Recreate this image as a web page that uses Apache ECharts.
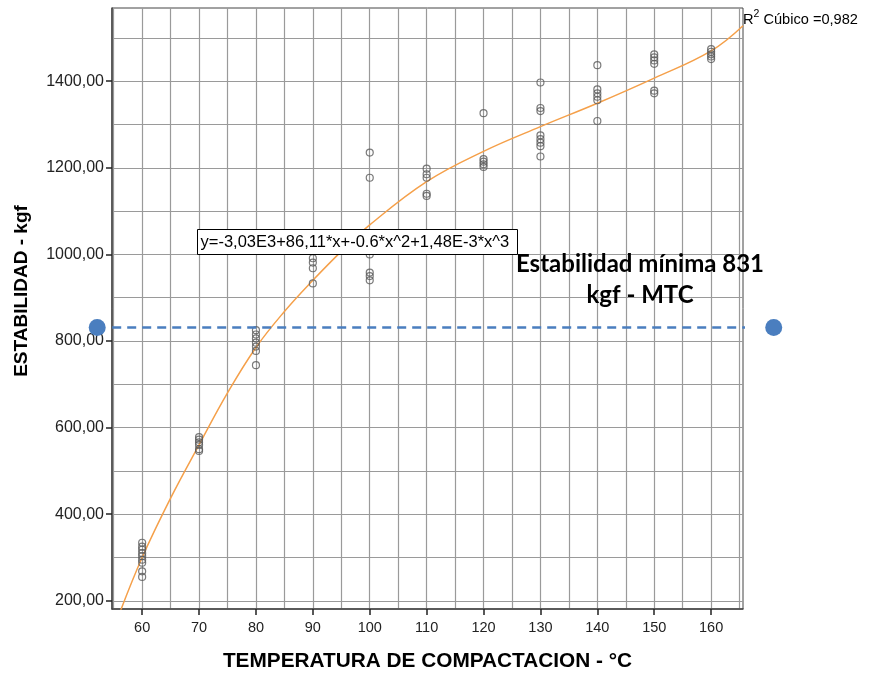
<!DOCTYPE html>
<html>
<head>
<meta charset="utf-8">
<script src="https://cdn.jsdelivr.net/npm/echarts@6/dist/echarts.min.js"></script>
<style>
  html, body { margin: 0; padding: 0; background: #fff; }
  #chart { width: 870px; height: 673px; }
</style>
</head>
<body>
<div id="chart"></div>
<script>
// temperaturas de compactacion (°C)
const temps = [60, 70, 80, 90, 100, 110, 120, 130, 140, 150, 160];
// estabilidad medida en cada temperatura (kgf)
const stability = [
  [334, 325, 318, 310, 303, 295, 288, 268, 255],
  [578, 572, 566, 560, 550, 546],
  [825, 815, 806, 796, 787, 777, 744],
  [991, 981, 968, 933],
  [1235, 1177, 1000, 958, 950, 940],
  [1198, 1185, 1177, 1140, 1135],
  [1326, 1220, 1214, 1208, 1202],
  [1397, 1338, 1331, 1275, 1266, 1258, 1250, 1226],
  [1437, 1381, 1372, 1364, 1356, 1308],
  [1462, 1455, 1448, 1440, 1378, 1372],
  [1474, 1468, 1462, 1457, 1451]
];
// curva cubica
const curveTemp = [56.2, 60, 65, 70, 75, 80, 85, 90, 95, 100, 110, 120, 130, 140, 150, 160, 165.6];
const curveStab = [177, 300, 437, 560, 680, 785, 868, 940, 1007, 1068, 1168, 1238, 1295, 1349, 1407, 1470, 1528];
// estabilidad minima
const minStab = 831;
const limitTemp = [52.1, 171.0];
// etiquetas de ejes
const xTicks = [60, 70, 80, 90, 100, 110, 120, 130, 140, 150, 160];
const yTicks = [200, 400, 600, 800, 1000, 1200, 1400];

const FONT = '"Liberation Sans", Arial, sans-serif';
const W = 870, H = 673;

// area del grafico
const G = { left: 112, right: 127, top: 8, bottom: 64 };
const X_MIN = 54.7, X_MAX = 165.6, Y_MIN = 181, Y_MAX = 1569;
// rejilla fina (cada 5 °C y cada 100 kgf), alineada con la principal
const GX_MIN = 55, GX_MAX = 165, GY_MIN = 200, GY_MAX = 1500;

const pxPerX = (W - G.left - G.right) / (X_MAX - X_MIN);
const pxPerY = (H - G.top - G.bottom) / (Y_MAX - Y_MIN);
const gLeft = G.left + (GX_MIN - X_MIN) * pxPerX;
const gRight = G.right + (X_MAX - GX_MAX) * pxPerX;
const gTop = G.top + (Y_MAX - GY_MAX) * pxPerY;
const gBottom = G.bottom + (GY_MIN - Y_MIN) * pxPerY;

const points = [];
temps.forEach((t, i) => {
  stability[i].forEach(v => points.push([t, v]));
});

const gridLine = { show: true, lineStyle: { color: '#9a9a9a', width: 1.2 } };
const hidden = {
  axisLine: { show: false }, axisTick: { show: false },
  axisLabel: { show: false }, splitLine: { show: false }
};

const chart = echarts.init(document.getElementById('chart'));

chart.setOption({
  backgroundColor: '#fff',
  animation: false,
  grid: [
    {
      left: G.left, right: G.right, top: G.top, bottom: G.bottom,
      containLabel: false, outerBoundsMode: 'none',
      show: true, borderColor: '#444', borderWidth: 1
    },
    // lineas verticales
    {
      left: gLeft, right: gRight, top: G.top, bottom: G.bottom,
      containLabel: false, outerBoundsMode: 'none', show: false
    },
    // lineas horizontales
    {
      left: G.left, right: G.right, top: gTop, bottom: gBottom,
      containLabel: false, outerBoundsMode: 'none', show: false
    }
  ],
  xAxis: [
    {
      type: 'value', gridIndex: 0,
      min: X_MIN, max: X_MAX,
      name: 'TEMPERATURA DE COMPACTACION - °C',
      nameLocation: 'middle',
      nameGap: 42,
      nameTextStyle: { fontFamily: FONT, fontWeight: 'bold', fontSize: 20.8, color: '#000' },
      axisLine: { show: true, onZero: false, lineStyle: { color: '#444', width: 1.5 } },
      axisTick: { show: true, length: 6, customValues: xTicks, lineStyle: { color: '#222', width: 1.5 } },
      axisLabel: {
        customValues: xTicks, margin: 11,
        fontFamily: FONT, fontSize: 14.5, color: '#222',
        formatter: v => String(v)
      },
      splitLine: { show: false }
    },
    Object.assign({ type: 'value', gridIndex: 1, min: GX_MIN, max: GX_MAX, interval: 5 }, hidden, { splitLine: gridLine }),
    Object.assign({ type: 'value', gridIndex: 2, min: 0, max: 1 }, hidden)
  ],
  yAxis: [
    {
      type: 'value', gridIndex: 0,
      min: Y_MIN, max: Y_MAX,
      axisLine: { show: true, onZero: false, lineStyle: { color: '#444', width: 1.5 } },
      axisTick: { show: true, length: 6, customValues: yTicks, lineStyle: { color: '#222', width: 1.5 } },
      axisLabel: {
        customValues: yTicks, margin: 8,
        fontFamily: FONT, fontSize: 16, color: '#222',
        formatter: v => v.toFixed(2).replace('.', ',')
      },
      splitLine: { show: false }
    },
    Object.assign({ type: 'value', gridIndex: 1, min: 0, max: 1 }, hidden),
    Object.assign({ type: 'value', gridIndex: 2, min: GY_MIN, max: GY_MAX, interval: 100 }, hidden, { splitLine: gridLine })
  ],
  series: [
    {
      type: 'line',
      name: 'Cúbico',
      data: curveTemp.map((t, i) => [t, curveStab[i]]),
      smooth: 0.4,
      showSymbol: false,
      lineStyle: { color: '#f5a04a', width: 1.5 },
      z: 3
    },
    {
      type: 'scatter',
      name: 'Estabilidad',
      data: points,
      symbol: 'circle',
      symbolSize: 7,
      itemStyle: { color: 'rgba(255,255,255,0)', borderColor: '#5a5a5a', borderWidth: 1.2 },
      z: 4
    },
    {
      type: 'line',
      name: 'Mínima',
      data: limitTemp.map(t => [t, minStab]),
      clip: false,
      symbol: 'circle',
      symbolSize: 17,
      showAllSymbol: true,
      itemStyle: { color: '#4a7ebf' },
      lineStyle: { color: '#4a7ebf', width: 2.5, type: [9, 6] },
      z: 5
    }
  ],
  graphic: [
    {
      type: 'text', x: 22, y: 291, rotation: Math.PI / 2, z: 10,
      style: {
        text: 'ESTABILIDAD - kgf', font: 'bold 19px ' + FONT, fill: '#000',
        align: 'center', verticalAlign: 'middle'
      }
    },
    {
      type: 'group',
      left: 197, top: 229,
      z: 10,
      children: [
        { type: 'rect', z: 10, shape: { x: 0, y: 0, width: 320, height: 25 },
          style: { fill: '#fff', stroke: '#000', lineWidth: 1 } },
        { type: 'text', z: 11, x: 3, y: 12.5,
          style: { text: 'y=-3,03E3+86,11*x+-0.6*x^2+1,48E-3*x^3', font: '16.5px ' + FONT,
                   fill: '#000', verticalAlign: 'middle' } }
      ]
    },
    {
      type: 'text', left: 743, top: 9, z: 10,
      style: {
        text: '{r|R}{s|2}{r| Cúbico =0,982}',
        rich: {
          r: { fontFamily: FONT, fontSize: 14.6, fill: '#000', verticalAlign: 'bottom', lineHeight: 18 },
          s: { fontFamily: FONT, fontSize: 10.5, fill: '#000', verticalAlign: 'top', lineHeight: 18, padding: [0, 0, 7, 0] }
        }
      }
    },
    {
      type: 'text', x: 640, y: 280, z: 10,
      style: {
        text: 'Estabilidad mínima 831\nkgf - MTC',
        font: 'bold 24px Lato, "Noto Sans", sans-serif',
        lineHeight: 31,
        fill: '#000',
        align: 'center',
        verticalAlign: 'middle'
      }
    }
  ]
});
</script>
</body>
</html>
